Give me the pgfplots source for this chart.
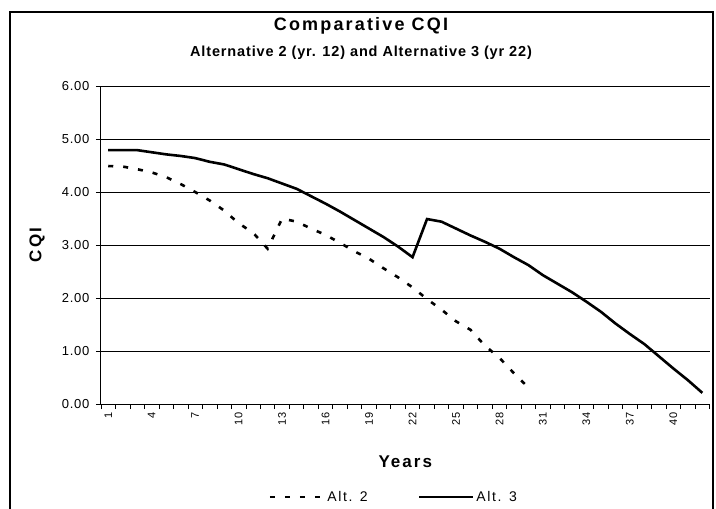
\documentclass[border=0pt]{standalone}
\usepackage{pgfplots}
\pgfplotsset{compat=1.18}
\usepackage{fontspec}
\setmainfont{Liberation Sans}
\newfontfamily\spaced[LetterSpace=12]{Liberation Sans}
\newfontfamily\lspaced[LetterSpace=6]{Liberation Sans}

\pgfplotstableread{
year alt2
1 4.49
2 4.48
3 4.43
4 4.37
5 4.28
6 4.15
7 4.00
8 3.84
9 3.65
10 3.41
11 3.23
12 2.93
13 3.50
14 3.44
15 3.31
16 3.19
17 3.04
18 2.88
19 2.74
20 2.56
21 2.39
22 2.20
23 1.98
24 1.78
25 1.56
26 1.40
27 1.10
28 0.87
29 0.58
30 0.31
}\alttwo

\pgfplotstableread{
year alt3
1 4.79
2 4.79
3 4.79
4 4.75
5 4.71
6 4.68
7 4.64
8 4.57
9 4.52
10 4.43
11 4.34
12 4.26
13 4.16
14 4.06
15 3.92
16 3.78
17 3.63
18 3.47
19 3.31
20 3.15
21 2.97
22 2.77
23 3.49
24 3.44
25 3.31
26 3.18
27 3.06
28 2.93
29 2.77
30 2.62
31 2.43
32 2.27
33 2.11
34 1.93
35 1.74
36 1.52
37 1.32
38 1.13
39 0.90
40 0.67
41 0.45
42 0.21
}\altthree

\begin{document}
\begin{tikzpicture}[x=1pt,y=1pt]
\useasboundingbox (0,0) rectangle (716,-509);
\fill[white] (0,0) rectangle (716,-509);
\draw[black, line width=1.3pt] (10,-12) rectangle (713,-530);
\node[font=\spaced\bfseries\fontsize{18}{18}\selectfont] at (361,-26) {Comparative CQI};
\node[font=\lspaced\bfseries\fontsize{14.5}{14.5}\selectfont] at (361,-53) {Alternative 2 (yr. 12) and Alternative 3 (yr 22)};
\begin{axis}[
  scale only axis, width=608.6pt, height=318pt,
  at={(101pt,-404pt)}, anchor=south west,
  xmin=0.5, xmax=42.5, ymin=0, ymax=6,
  axis x line*=bottom, axis y line*=left,
  axis line style={line width=1pt, black},
  ytick={0,1,...,6},
  yticklabel={\pgfmathprintnumber[fixed,fixed zerofill,precision=2]{\tick}},
  /pgf/number format/assume math mode=true,
  y tick label style={font=\lspaced\fontsize{13}{13}\selectfont, xshift=-3pt},
  xtick={1,4,...,40},
  minor xtick={0.5,1.5,...,42.5},
  major x tick style={draw=none},
  x tick label style={rotate=90, anchor=east, font=\lspaced\fontsize{11}{11}\selectfont},
  tick align=outside,
  major tick length=5pt, minor tick length=5pt,
  tick style={black, line width=0.8pt},
  ymajorgrids, grid style={black, line width=0.8pt},
  xlabel={Years}, ylabel={CQI},
  xlabel style={font=\spaced\bfseries\fontsize{17}{17}\selectfont, at={(axis description cs:0.5,-0.18)}, anchor=center},
  ylabel style={font=\spaced\bfseries\fontsize{17}{17}\selectfont, at={(axis description cs:-0.105,0.5)}, anchor=center},
  legend columns=2,
  legend style={draw=none, fill=none, at={(axis description cs:0.481,-0.292)}, anchor=center,
    font=\spaced\fontsize{14}{14}\selectfont, /tikz/every even column/.append style={column sep=48pt}},
  legend image code/.code={\draw[#1] (0pt,0pt) -- (54pt,0pt);},
  legend cell align=left,
]
\addplot[black, line width=2.6pt, dash pattern=on 5pt off 10pt] table[x=year, y=alt2] {\alttwo};
\addlegendentry{Alt. 2}
\addplot[black, line width=2.6pt] table[x=year, y=alt3] {\altthree};
\addlegendentry{Alt. 3}
\end{axis}
\end{tikzpicture}
\end{document}
